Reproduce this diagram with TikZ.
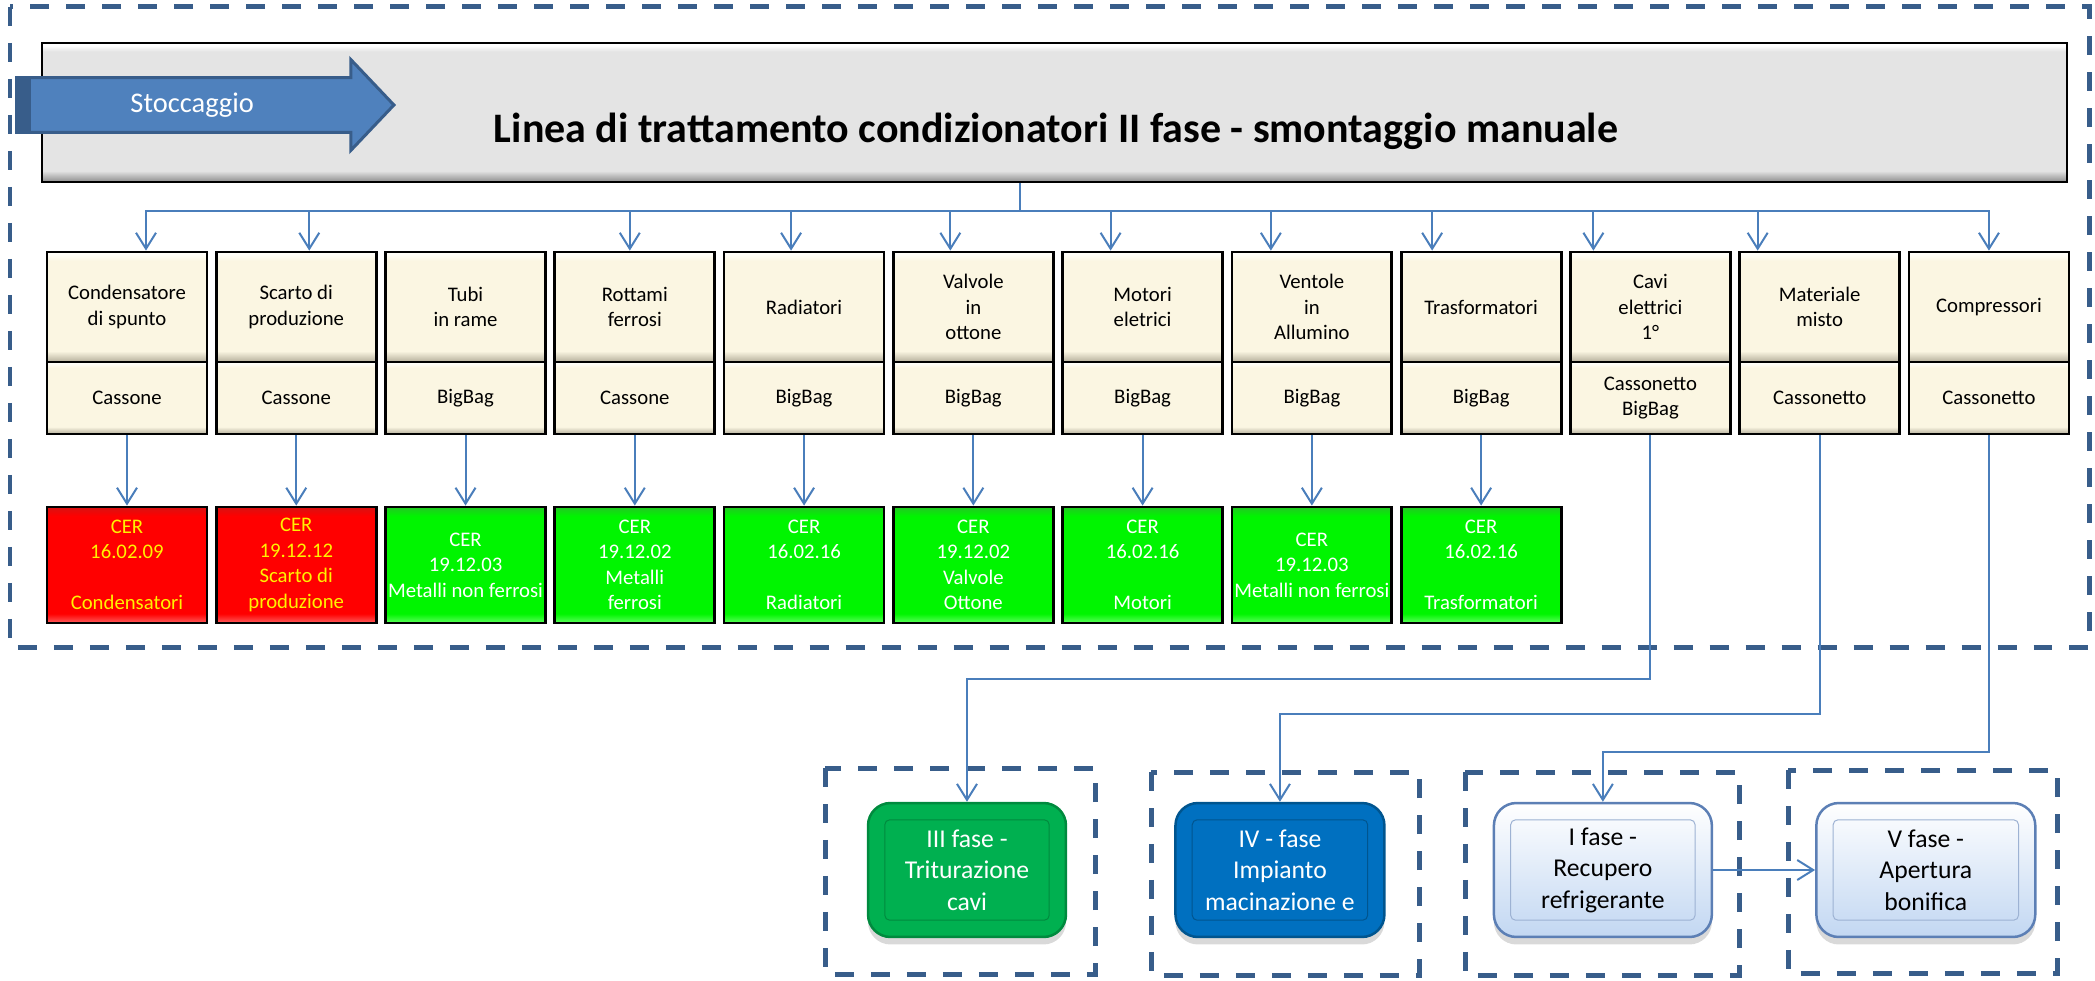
\documentclass[tikz,border=0pt]{standalone}
\usepackage{fontspec}
\setmainfont{Carlito}
\usetikzlibrary{shapes,arrows.meta,calc,shadows}

\definecolor{cream}{HTML}{FBF6E2}
\definecolor{creamlt}{HTML}{FFFEF8}
\definecolor{creamdk}{HTML}{B5AF9B}
\definecolor{greymid}{HTML}{E4E4E4}
\definecolor{greydk}{HTML}{8C8C8C}
\definecolor{redlt}{HTML}{FF5C5C}
\definecolor{reddk}{HTML}{D81212}
\definecolor{greenmid}{HTML}{00F500}
\definecolor{greenlt}{HTML}{5CFF5C}
\definecolor{greendk}{HTML}{22C822}
\definecolor{lineblue}{HTML}{4A7EBB}
\definecolor{frameblue}{HTML}{385D8A}
\definecolor{arrowblue}{HTML}{4F81BD}
\definecolor{arrowdk}{HTML}{385D8A}
\definecolor{phgreen}{HTML}{00B050}
\definecolor{phgreendk}{HTML}{008A3E}
\definecolor{phblue}{HTML}{0070C0}
\definecolor{phbluedk}{HTML}{00558F}
\definecolor{phlight}{HTML}{C2D7F2}
\definecolor{phborder}{HTML}{5C7FB5}

\pgfdeclareverticalshading{greybevel}{100bp}{color(0bp)=(greydk); color(25bp)=(greydk); color(29bp)=(greymid); color(72bp)=(greymid); color(74bp)=(white); color(100bp)=(white)}
\pgfdeclareverticalshading{creambevel}{100bp}{color(0bp)=(creamdk); color(25bp)=(creamdk); color(30bp)=(cream); color(71bp)=(cream); color(74bp)=(creamlt); color(100bp)=(creamlt)}
\pgfdeclareverticalshading{redbevel}{100bp}{color(0bp)=(redlt); color(25bp)=(redlt); color(29bp)=(red); color(71bp)=(red); color(75bp)=(reddk); color(100bp)=(reddk)}
\pgfdeclareverticalshading{greenbevel}{100bp}{color(0bp)=(greenlt); color(25bp)=(greenlt); color(29bp)=(greenmid); color(71bp)=(greenmid); color(75bp)=(greendk); color(100bp)=(greendk)}

\newcommand{\cellfont}{\fontsize{11.8}{14.5}\selectfont}
\newcommand{\headfont}{\fontsize{23.9}{28}\selectfont\bfseries}
\newcommand{\stockfont}{\fontsize{16.2}{19}\selectfont}
\newcommand{\phasefont}{\fontsize{14.6}{17.9}\selectfont}

\tikzstyle{line} = [draw=lineblue, line width=0.04cm, -{Straight Barb[length=0.32cm,width=0.4cm]}]
\tikzstyle{dashframe} = [draw=frameblue, line width=0.1cm, dash pattern=on 0.38cm off 0.34cm]
\tikzstyle{titlebox} = [draw=black, line width=0.04cm, shade, shading=greybevel, minimum width=40.5cm, minimum height=2.78cm]
\tikzstyle{stock} = [single arrow, draw=arrowdk, line width=0.06cm, fill=arrowblue, text=white, font=\stockfont, minimum height=7.55cm, single arrow head extend=0.36cm, single arrow tip angle=93, single arrow head indent=0pt, inner ysep=0.25cm, text height=0.42cm, text depth=0.12cm]
\tikzstyle{itembox} = [draw=black, line width=0.055cm, shade, shading=creambevel, minimum width=3.2cm, minimum height=2.2cm, inner sep=0pt, align=center, font=\cellfont]
\tikzstyle{binbox} = [itembox, minimum height=1.44cm]
\tikzstyle{redcer} = [itembox, shading=redbevel, minimum height=2.32cm, text=yellow]
\tikzstyle{greencer} = [itembox, shading=greenbevel, minimum height=2.32cm, text=white]
\tikzstyle{phase} = [rounded corners=0.45cm, line width=0.05cm, minimum height=2.68cm, align=center, font=\phasefont, drop shadow={opacity=0.3, shadow xshift=0cm, shadow yshift=-0.15cm}]

\begin{document}
\begin{tikzpicture}[x=0.02cm, y=-0.02cm]
\useasboundingbox (0,0) rectangle (2095,980);
 \draw [dashframe] (10,7) rectangle (2089,647);
 \node [titlebox] (TT) at (1054.5,112.5) {};
 \node [font=\headfont] (TL) at (1056,131) {Linea di trattamento condizionatori II fase - smontaggio manuale};
 \node [stock, anchor=tail] (ST) at (15,105) {Stoccaggio};
 \fill [arrowdk] (ST.before tail) rectangle ($(ST.after tail)+(16,0)$);

 \node [itembox] (CS) at (127,307) {Condensatore\\di spunto};
 \node [itembox, right of=CS, node distance=3.386cm] (SP) {Scarto di\\produzione};
 \node [itembox, right of=SP, node distance=3.386cm] (TR) {Tubi\\in rame};
 \node [itembox, right of=TR, node distance=3.386cm] (RF) {Rottami\\ferrosi};
 \node [itembox, right of=RF, node distance=3.386cm] (RA) {Radiatori};
 \node [itembox, right of=RA, node distance=3.386cm] (VO) {Valvole\\in\\ottone};
 \node [itembox, right of=VO, node distance=3.386cm] (ME) {Motori\\eletrici};
 \node [itembox, right of=ME, node distance=3.386cm] (VA) {Ventole\\in\\Allumino};
 \node [itembox, right of=VA, node distance=3.386cm] (TF) {Trasformatori};
 \node [itembox, right of=TF, node distance=3.386cm] (CE) {Cavi\\elettrici\\1°};
 \node [itembox, right of=CE, node distance=3.386cm] (MM) {Materiale\\misto};
 \node [itembox, right of=MM, node distance=3.386cm] (CO) {Compressori};

 \node [binbox, below of=CS, node distance=1.82cm] (CSb) {Cassone};
 \node [binbox, below of=SP, node distance=1.82cm] (SPb) {Cassone};
 \node [binbox, below of=TR, node distance=1.82cm] (TRb) {BigBag};
 \node [binbox, below of=RF, node distance=1.82cm] (RFb) {Cassone};
 \node [binbox, below of=RA, node distance=1.82cm] (RAb) {BigBag};
 \node [binbox, below of=VO, node distance=1.82cm] (VOb) {BigBag};
 \node [binbox, below of=ME, node distance=1.82cm] (MEb) {BigBag};
 \node [binbox, below of=VA, node distance=1.82cm] (VAb) {BigBag};
 \node [binbox, below of=TF, node distance=1.82cm] (TFb) {BigBag};
 \node [binbox, below of=CE, node distance=1.82cm] (CEb) {Cassonetto\\BigBag};
 \node [binbox, below of=MM, node distance=1.82cm] (MMb) {Cassonetto};
 \node [binbox, below of=CO, node distance=1.82cm] (COb) {Cassonetto};

 \node [redcer, below of=CSb, node distance=3.34cm] (CSc) {CER\\16.02.09\\[14.5pt]Condensatori};
 \node [redcer, below of=SPb, node distance=3.34cm] (SPc) {CER\\19.12.12\\Scarto di\\produzione};
 \node [greencer, below of=TRb, node distance=3.34cm] (TRc) {CER\\19.12.03\\Metalli non ferrosi};
 \node [greencer, below of=RFb, node distance=3.34cm] (RFc) {CER\\19.12.02\\Metalli\\ferrosi};
 \node [greencer, below of=RAb, node distance=3.34cm] (RAc) {CER\\16.02.16\\[14.5pt]Radiatori};
 \node [greencer, below of=VOb, node distance=3.34cm] (VOc) {CER\\19.12.02\\Valvole\\Ottone};
 \node [greencer, below of=MEb, node distance=3.34cm] (MEc) {CER\\16.02.16\\[14.5pt]Motori};
 \node [greencer, below of=VAb, node distance=3.34cm] (VAc) {CER\\19.12.03\\Metalli non ferrosi};
 \node [greencer, below of=TFb, node distance=3.34cm] (TFc) {CER\\16.02.16\\[14.5pt]Trasformatori};

 \draw [dashframe] (825,768) rectangle (1095,974);
 \draw [dashframe] (1151,772) rectangle (1419,975);
 \draw [dashframe] (1465,772) rectangle (1739,975);
 \draw [dashframe] (1788,770) rectangle (2057,973);

 \node [phase, fill=phgreen, draw=phgreendk, text=white, minimum width=3.96cm] (P3) at (967,870) {III fase -\\Triturazione\\cavi};
 \node [phase, fill=phblue, draw=phbluedk, text=white, minimum width=4.18cm, right of=P3, node distance=6.26cm] (P4) {IV - fase\\Impianto\\macinazione e};
 \node [phase, top color=white, bottom color=phlight, draw=phborder, minimum width=4.36cm, right of=P4, node distance=6.46cm] (P1) {I fase -\\Recupero\\refrigerante};
 \node [phase, top color=white, bottom color=phlight, draw=phborder, minimum width=4.38cm, right of=P1, node distance=6.46cm] (P5) {V fase -\\Apertura\\bonifica};
 \draw [phgreendk, line width=0.02cm, rounded corners=0.1cm] ($(P3.north west)+(18,18)$) rectangle ($(P3.south east)+(-18,-18)$);
 \draw [phbluedk, line width=0.02cm, rounded corners=0.1cm] ($(P4.north west)+(18,18)$) rectangle ($(P4.south east)+(-18,-18)$);
 \draw [phborder!60, line width=0.02cm, rounded corners=0.1cm] ($(P1.north west)+(18,18)$) rectangle ($(P1.south east)+(-18,-18)$);
 \draw [phborder!60, line width=0.02cm, rounded corners=0.1cm] ($(P5.north west)+(18,18)$) rectangle ($(P5.south east)+(-18,-18)$);

 \coordinate (hub) at (1020,211);
 \path [draw=lineblue, line width=0.04cm] (hub |- TT.south) -- (hub);
 \path [line] (hub) -| ($(CS.north)+(19,0)$);
 \path [line] (hub) -| ($(SP.north)+(13,0)$);
 \path [line] (hub) -| ($(RF.north)+(-5,0)$);
 \path [line] (hub) -| ($(RA.north)+(-13,0)$);
 \path [line] (hub) -| ($(VO.north)+(-23,0)$);
 \path [line] (hub) -| ($(ME.north)+(-32,0)$);
 \path [line] (hub) -| ($(VA.north)+(-41,0)$);
 \path [line] (hub) -| ($(TF.north)+(-49,0)$);
 \path [line] (hub) -| ($(CE.north)+(-57,0)$);
 \path [line] (hub) -| ($(MM.north)+(-62,0)$);
 \path [line] (hub) -| (CO.north);

 \path [line] (CSb) -- (CSc);
 \path [line] (SPb) -- (SPc);
 \path [line] (TRb) -- (TRc);
 \path [line] (RFb) -- (RFc);
 \path [line] (RAb) -- (RAc);
 \path [line] (VOb) -- (VOc);
 \path [line] (MEb) -- (MEc);
 \path [line] (VAb) -- (VAc);
 \path [line] (TFb) -- (TFc);

 \path [line] (CEb) |- (P3 |- 0,679) -- (P3);
 \path [line] (MMb) |- (P4 |- 0,714) -- (P4);
 \path [line] (COb) |- (P1 |- 0,752) -- (P1);
 \path [line] (P1) -- (P5);
\end{tikzpicture}
\end{document}
